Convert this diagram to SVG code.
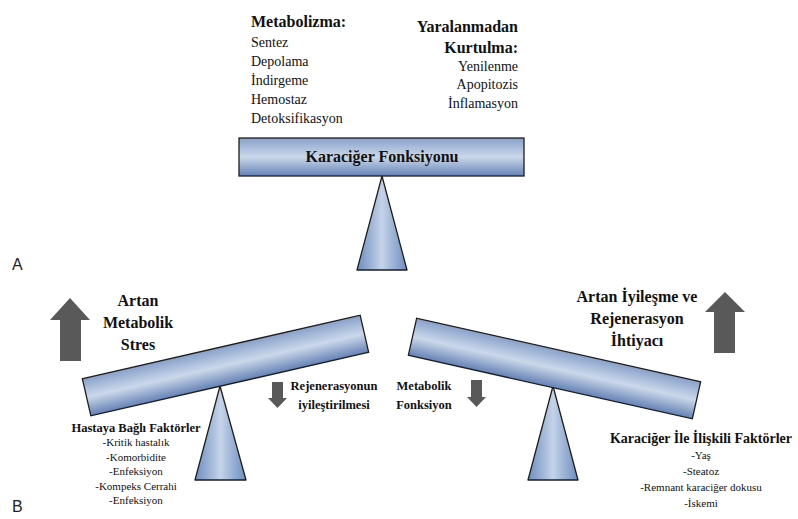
<svg xmlns="http://www.w3.org/2000/svg" width="798" height="519" viewBox="0 0 798 519">
<defs>
<linearGradient id="barGrad" x1="0" y1="0" x2="0" y2="1">
<stop offset="0" stop-color="#88a1ca"/>
<stop offset="0.5" stop-color="#cbd8ea"/>
<stop offset="1" stop-color="#6482b5"/>
</linearGradient>
<linearGradient id="triGrad" x1="0" y1="0" x2="1" y2="0">
<stop offset="0" stop-color="#6d8dbf"/>
<stop offset="0.5" stop-color="#c4d3e8"/>
<stop offset="1" stop-color="#6d8dbf"/>
</linearGradient>
</defs>
<style>
.bar{fill:url(#barGrad);stroke:#1e1e1e;stroke-width:1.3}
.tri{fill:url(#triGrad);stroke:#1e1e1e;stroke-width:1.3;stroke-linejoin:round}
.arr{fill:#595959}
text{font-family:'Liberation Serif','DejaVu Serif',serif;fill:#111}
.b{font-weight:bold}
.h{font-size:16px;font-weight:bold}
.n{font-size:14px}
.s{font-size:12.5px;font-weight:bold}
.x{font-size:11px}
text.lab{font-family:'Liberation Sans',Arial,sans-serif;font-size:16px;fill:#222}
</style>
<rect width="798" height="519" fill="#ffffff"/>

<g id="metabolizma" font-family="Liberation Serif, serif">
<text class="h" x="251" y="27">Metabolizma:</text>
<text class="n" x="251" y="47">Sentez</text>
<text class="n" x="251" y="66">Depolama</text>
<text class="n" x="251" y="85">İndirgeme</text>
<text class="n" x="251" y="104">Hemostaz</text>
<text class="n" x="251" y="123">Detoksifikasyon</text>
</g>

<g id="yaralanmadan" text-anchor="end">
<text class="h" x="518" y="32">Yaralanmadan</text>
<text class="h" x="518" y="53">Kurtulma:</text>
<text class="n" x="518" y="71">Yenilenme</text>
<text class="n" x="518" y="89">Apopitozis</text>
<text class="n" x="518" y="108">İnflamasyon</text>
</g>

<g id="karaciger-fonksiyonu">
<polygon class="tri" points="382,176 357,270 407,270"/>
<rect class="bar" x="239" y="138" width="285" height="38"/>
<text class="h" x="382" y="162" text-anchor="middle">Karaciğer Fonksiyonu</text>
</g>

<text class="lab" x="12" y="270">A</text>
<text class="lab" x="12" y="512">B</text>

<g id="sol-terazi">
<polygon class="tri" points="220,386 195,480 246,480"/>
<rect class="bar" x="-142.5" y="-19" width="285" height="38" transform="translate(225.5,365.5) rotate(-12.9)"/>
</g>

<g id="sag-terazi">
<polygon class="tri" points="553,386 528,480 578,480"/>
<rect class="bar" x="-145.5" y="-19" width="291" height="38" transform="translate(554.5,368.5) rotate(12.6)"/>
</g>

<g id="artan-metabolik-stres" text-anchor="middle">
<text class="h" x="138" y="306">Artan</text>
<text class="h" x="138" y="328">Metabolik</text>
<text class="h" x="138" y="350">Stres</text>
</g>

<g id="artan-iyilesme" text-anchor="middle">
<text class="h" x="637" y="302">Artan İyileşme ve</text>
<text class="h" x="637" y="324">Rejenerasyon</text>
<text class="h" x="637" y="346">İhtiyacı</text>
</g>

<g id="rejenerasyon" text-anchor="middle">
<text class="s" x="334" y="390">Rejenerasyonun</text>
<text class="s" x="334" y="409">iyileştirilmesi</text>
</g>

<g id="metabolik-fonksiyon" text-anchor="middle">
<text class="s" x="424" y="390">Metabolik</text>
<text class="s" x="424" y="409">Fonksiyon</text>
</g>

<g id="hastaya-bagli" text-anchor="middle">
<text class="s" x="136" y="432">Hastaya Bağlı Faktörler</text>
<text class="x" x="136" y="446">-Kritik hastalık</text>
<text class="x" x="136" y="461">-Komorbidite</text>
<text class="x" x="136" y="475">-Enfeksiyon</text>
<text class="x" x="136" y="490">-Kompeks Cerrahi</text>
<text class="x" x="136" y="504">-Enfeksiyon</text>
</g>

<g id="karaciger-iliskili" text-anchor="middle">
<text class="b" font-size="14" x="701" y="443">Karaciğer İle İlişkili Faktörler</text>
<text class="x" x="701" y="459">-Yaş</text>
<text class="x" x="701" y="475">-Steatoz</text>
<text class="x" x="701" y="491">-Remnant karaciğer dokusu</text>
<text class="x" x="701" y="507">-İskemi</text>
</g>

<g id="connectors">
<polygon class="arr" points="70,298 90,320 81,320 81,361 60,361 60,320 50,320"/>
<polygon class="arr" points="725,292 745,312 735,312 735,353 714,353 714,312 705,312"/>
<polygon class="arr" points="272,382 283,382 283,398 287,398 277.5,408 268,398 272,398"/>
<polygon class="arr" points="471,380 482,380 482,397 486,397 476.5,407 467,397 471,397"/>
</g>
</svg>
